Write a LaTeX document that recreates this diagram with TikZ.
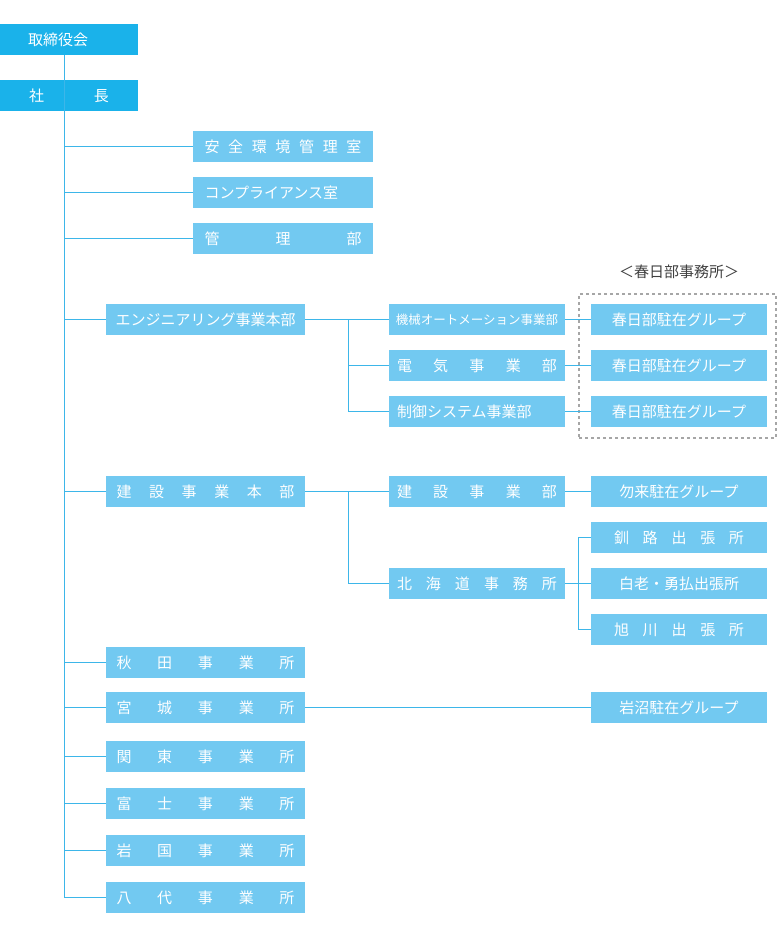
\documentclass[tikz,border=0pt]{standalone}
\usepackage{fontspec}
\setmainfont{Noto Sans CJK JP}
\definecolor{dk}{HTML}{1AB2EA}
\definecolor{lt}{HTML}{72C9F1}
\definecolor{ln}{HTML}{3DB6E9}
\newcommand{\spr}[2]{\makebox[#1pt][s]{#2}}
\begin{document}
\begin{tikzpicture}[x=1pt,y=-1pt,
 bx/.style={fill=#1,text=white,inner sep=0pt,font=\fontsize{15}{15}\selectfont},
 bx/.default=lt,
 ln/.style={draw=ln,line width=1pt}]
\useasboundingbox (0,0) rectangle (780,946);
\newcommand{\B}[6][lt]{\node[bx=#1,minimum width=#4-#3,minimum height=31] (#2) at ({(#3+#4)/2},#5+15.5) {#6};}
\B[dk]{tori}{0}{138}{24}{\spr{82}{取締役会}}
\B[dk]{sha}{0}{138}{80}{\spr{80}{社\hfill 長}}
\B{anz}{193}{373}{131}{\spr{157}{安\hfill 全\hfill 環\hfill 境\hfill 管\hfill 理\hfill 室}}
\B{comp}{193}{373}{177}{\spr{157}{コンプライアンス室}}
\B{kanri}{193}{373}{223}{\spr{157}{管\hfill 理\hfill 部}}
\B{eng}{106}{305}{304}{\spr{180}{エンジニアリング事業本部}}
\B{kikai}{389}{565}{304}{{\fontsize{12.5}{12.5}\selectfont 機械オートメーション事業部}}
\B{denki}{389}{565}{350}{\spr{160}{電\hfill 気\hfill 事\hfill 業\hfill 部}}
\B{seigyo}{389}{565}{396}{\spr{160}{制御システム事業部}}
\B{k1}{591}{767}{304}{春日部駐在グループ}
\B{k2}{591}{767}{350}{春日部駐在グループ}
\B{k3}{591}{767}{396}{春日部駐在グループ}
\node[font=\fontsize{15}{15}\selectfont,text=black!75] (kasu) at (679,272) {＜春日部事務所＞};
\node[draw=gray!70,dashed,line width=1.2pt,minimum width=197,minimum height=144,inner sep=0] (dash) at (677.5,366) {};
\B{ken}{106}{305}{476}{\spr{178}{建\hfill 設\hfill 事\hfill 業\hfill 本\hfill 部}}
\B{kenj}{389}{565}{476}{\spr{160}{建\hfill 設\hfill 事\hfill 業\hfill 部}}
\B{naco}{591}{767}{476}{勿来駐在グループ}
\B{hok}{389}{565}{568}{\spr{160}{北\hfill 海\hfill 道\hfill 事\hfill 務\hfill 所}}
\B{kus}{591}{767}{522}{\spr{130}{釧\hfill 路\hfill 出\hfill 張\hfill 所}}
\B{shira}{591}{767}{568}{白老・勇払出張所}
\B{asa}{591}{767}{614}{\spr{130}{旭\hfill 川\hfill 出\hfill 張\hfill 所}}
\B{aki}{106}{305}{647}{\spr{178}{秋\hfill 田\hfill 事\hfill 業\hfill 所}}
\B{miya}{106}{305}{692}{\spr{178}{宮\hfill 城\hfill 事\hfill 業\hfill 所}}
\B{iwan}{591}{767}{692}{岩沼駐在グループ}
\B{kan}{106}{305}{741}{\spr{178}{関\hfill 東\hfill 事\hfill 業\hfill 所}}
\B{fuji}{106}{305}{788}{\spr{178}{富\hfill 士\hfill 事\hfill 業\hfill 所}}
\B{iwak}{106}{305}{835}{\spr{178}{岩\hfill 国\hfill 事\hfill 業\hfill 所}}
\B{yatsu}{106}{305}{882}{\spr{178}{八\hfill 代\hfill 事\hfill 業\hfill 所}}
% trunk
\coordinate (t0) at (64,55);
\coordinate (tb) at (64,898);
\draw[ln] (t0) -- (tb);
\foreach \n in {anz,comp,kanri,eng,ken,aki,miya,kan,fuji,iwak,yatsu}
  \draw[ln] (tb |- \n.west) -- (\n.west);
% engineering
\coordinate (e1) at (348,319.5);
\draw[ln] (eng.east) -- (kikai.west);
\draw[ln] (e1) |- (seigyo.west);
\draw[ln] (e1 |- denki.west) -- (denki.west);
\foreach \a/\b in {kikai/k1,denki/k2,seigyo/k3} \draw[ln] (\a.east) -- (\b.west);
% construction
\coordinate (c1) at (348,491.5);
\draw[ln] (ken.east) -- (kenj.west);
\draw[ln] (c1) |- (hok.west);
\draw[ln] (kenj.east) -- (naco.west);
\coordinate (h1) at (578,537.5);
\draw[ln] (hok.east) -- (shira.west);
\draw[ln] (kus.west) -- (h1) |- (asa.west);
\draw[ln] (miya.east) -- (iwan.west);
\end{tikzpicture}
\end{document}
